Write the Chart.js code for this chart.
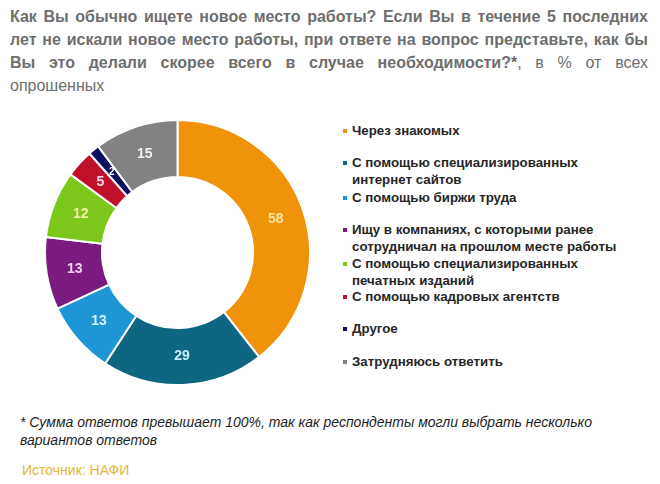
<!DOCTYPE html>
<html lang="ru">
<head>
<meta charset="utf-8">
<script src="https://cdn.jsdelivr.net/npm/chart.js@4"></script>
<style>
  body { margin: 0; background: #fff; font-family: "Liberation Sans", Arial, sans-serif; }
  #page { position: relative; width: 660px; height: 484px; overflow: hidden; }
  #title { position: absolute; left: 10px; top: 5px; width: 638px; color: #6e6e6e; font-size: 16px; line-height: 23px; }
  #title div { text-align: justify; text-align-last: justify; white-space: nowrap; font-weight: bold; }
  #title div.last { text-align-last: left; font-weight: normal; }
  #title span { font-weight: normal; }
  #chartBox { position: absolute; left: 44px; top: 119px; width: 267px; height: 267px; }
  .leg { position: absolute; left: 343px; color: #262626; font-weight: bold; font-size: 13.3px; line-height: 16.5px; }
  .leg i { position: absolute; left: 0; top: 6px; width: 4px; height: 4px; }
  .leg span { display: block; margin-left: 9px; white-space: pre; }
  #note { position: absolute; left: 20px; top: 413px; font-style: italic; font-size: 14px; line-height: 18px; color: #1e1e1e; }
  #source { position: absolute; left: 22px; top: 462px; font-size: 14px; color: #e5b631; }
</style>
</head>
<body>
<div id="page">
  <div id="title">
    <div>Как Вы обычно ищете новое место работы? Если Вы в течение 5 последних</div>
    <div>лет не искали новое место работы, при ответе на вопрос представьте, как бы</div>
    <div>Вы это делали скорее всего в случае необходимости?*<span>, в % от всех</span></div>
    <div class="last">опрошенных</div>
  </div>
  <div id="chartBox"><canvas id="donut"></canvas></div>
  <div id="legend"></div>
  <div id="note">* Сумма ответов превышает 100%, так как респонденты могли выбрать несколько<br>вариантов ответов</div>
  <div id="source">Источник: НАФИ</div>
</div>
<script>
"use strict"
// Данные опроса
const categories = [
  "Через знакомых",
  "С помощью специализированных\nинтернет сайтов",
  "С помощью биржи труда",
  "Ищу в компаниях, с которыми ранее\nсотрудничал на прошлом месте работы",
  "С помощью специализированных\nпечатных изданий",
  "С помощью кадровых агентств",
  "Другое",
  "Затрудняюсь ответить"
];
const values = [58, 29, 13, 13, 12, 5, 2, 15];
const colors = ["#f0930b", "#0f6682", "#1d96d6", "#7b1b7f", "#7cc71b", "#c0112c", "#0b105c", "#828282"];
const labelColors = ["#f9e7a2", "#c4f0ff", "#d9f5ff", "#f3d2f3", "#f2f2a6", "#f9d9e1", "#ffffff", "#f2f2f2"];

// Легенда
const legendTops = [123, 155, 190, 222, 256, 289, 321, 354];
const legendEl = document.getElementById("legend");
categories.forEach((name, i) => {
    const item = document.createElement("div");
    item.className = "leg";
    item.style.top = legendTops[i] + "px";
    item.innerHTML = '<i style="background:' + colors[i] + '"></i><span></span>';
    item.querySelector("span").textContent = name;
    legendEl.appendChild(item);
});

// Подписи значений внутри сегментов
const sliceLabels = {
    id: "sliceLabels",
    afterDatasetsDraw(chart) {
        const ctx = chart.ctx;
        const meta = chart.getDatasetMeta(0);
        ctx.save();
        ctx.textAlign = "center";
        ctx.textBaseline = "middle";
        meta.data.forEach((arc, i) => {
            const pos = arc.tooltipPosition();
            ctx.fillStyle = labelColors[i];
            ctx.font = (values[i] < 3 ? "bold 10px" : "bold 14px") + " 'Liberation Sans', Arial, sans-serif";
            ctx.fillText(String(values[i]), pos.x, pos.y);
        });
        ctx.restore();
    }
};

new Chart(document.getElementById("donut"), {
    type: "doughnut",
    data: {
        labels: categories,
        datasets: [{
            data: values,
            backgroundColor: colors,
            borderColor: "#ffffff",
            borderWidth: 2
        }]
    },
    options: {
        responsive: true,
        maintainAspectRatio: false,
        animation: false,
        cutout: "57%",
        layout: { padding: 0 },
        plugins: {
            legend: { display: false },
            tooltip: { enabled: false }
        }
    },
    plugins: [sliceLabels]
});
</script>
</body>
</html>
